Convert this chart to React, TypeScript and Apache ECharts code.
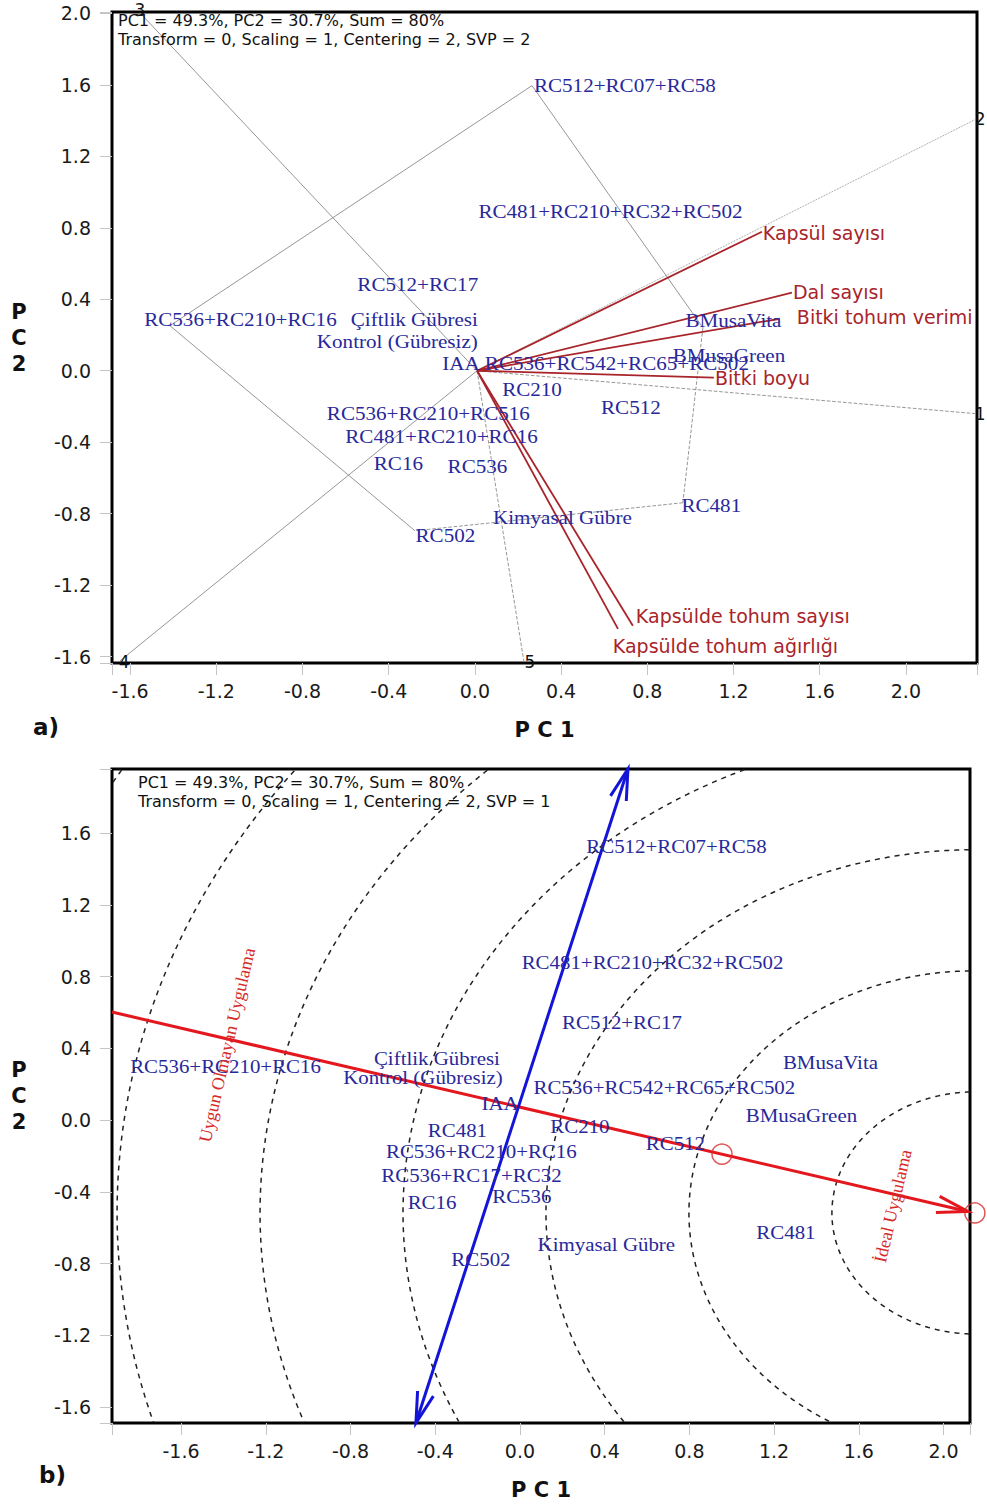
import React, { useEffect, useRef } from 'react';
import * as echarts from 'echarts';

// ---------------- Panel a) : which-won-where biplot ----------------
const topGenotypes = ['RC512+RC07+RC58', 'RC481+RC210+RC32+RC502', 'RC512+RC17', 'RC536+RC210+RC16', 'Çiftlik Gübresi', 'Kontrol (Gübresiz)', 'IAA', 'RC536+RC542+RC65+RC502', 'BMusaVita', 'BMusaGreen', 'RC210', 'RC536+RC210+RC516', 'RC512', 'RC481+RC210+RC16', 'RC16', 'RC536', 'RC481', 'Kimyasal Gübre', 'RC502'];
const topGenoPC1 = [0.696, 0.629, -0.265, -1.088, -0.281, -0.360, -0.065, 0.659, 1.200, 1.179, 0.265, -0.216, 0.724, -0.155, -0.355, 0.012, 1.097, 0.406, -0.137];
const topGenoPC2 = [1.596, 0.890, 0.482, 0.286, 0.286, 0.162, 0.039, 0.039, 0.280, 0.084, -0.106, -0.241, -0.207, -0.370, -0.521, -0.538, -0.756, -0.823, -0.924];

const traits = ['Kapsül sayısı', 'Dal sayısı', 'Bitki tohum verimi', 'Bitki boyu', 'Kapsülde tohum sayısı', 'Kapsülde tohum ağırlığı'];
const traitPC1 = [1.332, 1.471, 1.415, 1.109, 0.733, 0.664];
const traitPC2 = [0.778, 0.437, 0.291, -0.039, -1.428, -1.445];
const traitLabelPC1 = [1.336, 1.476, 1.494, 1.114, 0.747, 0.640];
const traitLabelPC2 = [0.773, 0.442, 0.302, -0.039, -1.372, -1.540];

const biplotOrigin = [0.01, 0];

const hullPC1 = [0.265, 1.058, 0.965, -0.278, -1.415];
const hullPC2 = [1.596, 0.241, -0.739, -0.896, 0.252];
const hullEdgeType = ['solid', 'dashed', 'dashed', 'solid', 'solid'];

const rayLabels = ['1', '2', '3', '4', '5'];
const rayPC1 = [2.33, 2.33, -1.555, -1.647, 0.227];
const rayPC2 = [-0.241, 1.411, 2.004, -1.624, -1.624];
const rayType = ['dashed', 'dotted', 'solid', 'solid', 'dashed'];
const rayLabelPC1 = [2.345, 2.345, -1.555, -1.628, 0.255];
const rayLabelPC2 = [-0.241, 1.411, 2.02, -1.63, -1.63];

const topXRange = [-1.684, 2.33];
const topYRange = [-1.636, 2.008];

// ---------------- Panel b) : ideal genotype biplot ----------------
const botGenotypes = ['RC512+RC07+RC58', 'RC481+RC210+RC32+RC502', 'RC512+RC17', 'RC536+RC210+RC16', 'Çiftlik Gübresi', 'Kontrol (Gübresiz)', 'IAA', 'RC536+RC542+RC65+RC502', 'BMusaVita', 'BMusaGreen', 'RC481', 'RC210', 'RC512', 'RC536+RC210+RC16', 'RC536+RC17+RC32', 'RC16', 'RC536', 'Kimyasal Gübre', 'RC481', 'RC502'];
const botGenoPC1 = [0.739, 0.626, 0.482, -1.390, -0.392, -0.458, -0.094, 0.682, 1.466, 1.329, -0.295, 0.283, 0.734, -0.182, -0.229, -0.415, 0.009, 0.408, 1.256, -0.184];
const botGenoPC2 = [1.527, 0.881, 0.546, 0.301, 0.346, 0.240, 0.095, 0.184, 0.323, 0.028, -0.056, -0.033, -0.128, -0.173, -0.307, -0.457, -0.424, -0.691, -0.624, -0.775];

const idealPoint = [2.148, -0.518];
const averagePoint = [0.954, -0.190];
const circleRadii = [0.675, 1.35, 2.025, 2.70, 3.375, 4.05, 4.725];
const aeaPC1 = [-1.926, 2.115];
const aeaPC2 = [0.602, -0.510];
const orthoPC1 = [-0.491, 0.51];
const orthoPC2 = [-1.689, 1.957];
const botNotes = ['Uygun Olmayan Uygulama', 'İdeal Uygulama'];
const botNotePC1 = [-1.383, 1.761];
const botNotePC2 = [0.418, -0.479];

const botXRange = [-1.926, 2.125];
const botYRange = [-1.689, 1.957];

// ---------------- styles ----------------
const BLUE = '#28289a';
const DARKRED = '#a8242a';
const RED = '#e3171d';
const BLUE_LINE = '#1414d8';
const SANS = '"DejaVu Sans", sans-serif';
const SERIF = '"Liberation Serif", "Times New Roman", serif';

const fmt = (v: number) => {
  const r = Math.round(v / 0.4) * 0.4;
  if (Math.abs(v - r) > 1e-6) return '';
  return Math.abs(r) < 1e-9 ? '0.0' : r.toFixed(1);
};

const makeXAxis = (gridIndex: number, range: number[]) => ({
  type: 'value', gridIndex, min: range[0], max: range[1], minInterval: 0.4, maxInterval: 0.4, splitNumber: 10,
  axisLine: { show: false, onZero: false }, splitLine: { show: false },
  axisTick: { show: true, length: 12, lineStyle: { color: '#c4c4c4', width: 1 } },
  axisLabel: { formatter: fmt, fontFamily: SANS, fontSize: 19, color: '#1a1a1a', margin: 18 },
  name: 'P C 1', nameLocation: 'middle', nameGap: 56,
  nameTextStyle: { fontFamily: SANS, fontWeight: 'bold', fontSize: 21, color: '#111' },
});

const makeYAxis = (gridIndex: number, range: number[]) => ({
  type: 'value', gridIndex, min: range[0], max: range[1], minInterval: 0.4, maxInterval: 0.4, splitNumber: 10,
  axisLine: { show: false, onZero: false }, splitLine: { show: false },
  axisTick: { show: true, length: 12, lineStyle: { color: '#c4c4c4', width: 1 } },
  axisLabel: { formatter: fmt, fontFamily: SANS, fontSize: 19, color: '#1a1a1a', margin: 21 },
  name: 'P\nC\n2', nameLocation: 'middle', nameRotate: 0, nameGap: 93,
  nameTextStyle: { fontFamily: SANS, fontWeight: 'bold', fontSize: 21, color: '#111', lineHeight: 26, align: 'center' },
});

const segment = (gi: number, p1: number[], p2: number[], color: string, width: number, type: string, z = 2) => ({
  type: 'line', xAxisIndex: gi, yAxisIndex: gi, data: [p1, p2], symbol: 'none', silent: true, z,
  lineStyle: { color, width, type }, animation: false,
});

const textSeries = (gi: number, names: string[], xs: number[], ys: number[], o: any) => ({
  type: 'custom', xAxisIndex: gi, yAxisIndex: gi, silent: true, z: 10,
  data: xs.map((x, i) => [x, ys[i], i]),
  renderItem: (_p: any, api: any) => {
    const pt = api.coord([api.value(0), api.value(1)]);
    const i = api.value(2);
    return {
      type: 'text', x: pt[0], y: pt[1], scaleX: o.scaleX ?? 1, rotation: o.rotation ?? 0,
      style: { text: names[i], fill: o.color, font: o.font, textAlign: o.align ?? 'center', textVerticalAlign: 'middle' },
    };
  },
});

export default function App() {
  const ref = useRef<HTMLDivElement>(null);
  useEffect(() => {
    if (!ref.current) return;
    const chart = echarts.init(ref.current, null, { renderer: 'svg' });

    const series: any[] = [];
    // --- panel a ---
    for (let i = 0; i < rayPC1.length; i++) {
      series.push(segment(0, biplotOrigin, [rayPC1[i], rayPC2[i]], '#8a8a8a', 0.9, rayType[i]));
    }
    for (let i = 0; i < hullPC1.length; i++) {
      const j = (i + 1) % hullPC1.length;
      series.push(segment(0, [hullPC1[i], hullPC2[i]], [hullPC1[j], hullPC2[j]], '#8a8a8a', 0.9, hullEdgeType[i]));
    }
    for (let i = 0; i < traitPC1.length; i++) {
      series.push(segment(0, biplotOrigin, [traitPC1[i], traitPC2[i]], DARKRED, 1.8, 'solid', 4));
    }
    series.push(textSeries(0, topGenotypes, topGenoPC1, topGenoPC2, { color: BLUE, font: `19px ${SERIF}`, scaleX: 1.11 }));
    series.push(textSeries(0, traits, traitLabelPC1, traitLabelPC2, { color: DARKRED, font: `19px ${SANS}`, align: 'left' }));
    series.push(textSeries(0, rayLabels, rayLabelPC1, rayLabelPC2, { color: '#111', font: `17px ${SANS}` }));

    // --- panel b ---
    const [cx, cy] = idealPoint;
    series.push({
      type: 'custom', xAxisIndex: 1, yAxisIndex: 1, silent: true, z: 2,
      data: circleRadii.map((r) => [r, 0]),
      renderItem: (_p: any, api: any) => {
        const r = api.value(0);
        const runs: number[][][] = [];
        let cur: number[][] = [];
        const N = 1440;
        for (let k = 0; k <= N; k++) {
          const t = (k / N) * Math.PI * 2;
          const x = cx + r * Math.cos(t);
          const y = cy + r * Math.sin(t);
          if (x >= botXRange[0] && x <= botXRange[1] && y >= botYRange[0] && y <= botYRange[1]) {
            cur.push(api.coord([x, y]));
          } else {
            if (cur.length > 1) runs.push(cur);
            cur = [];
          }
        }
        if (cur.length > 1) runs.push(cur);
        return {
          type: 'group',
          children: runs.map((pts) => ({
            type: 'polyline', shape: { points: pts },
            style: { stroke: '#222', lineWidth: 1.5, lineDash: [5, 5], fill: 'none' },
          })),
        };
      },
    });
    series.push(segment(1, [aeaPC1[0], aeaPC2[0]], [aeaPC1[1], aeaPC2[1]], RED, 3, 'solid', 4));
    series.push(segment(1, [orthoPC1[0], orthoPC2[0]], [orthoPC1[1], orthoPC2[1]], BLUE_LINE, 3, 'solid', 4));
    const arrowColors = [RED, BLUE_LINE];
    series.push({
      type: 'custom', xAxisIndex: 1, yAxisIndex: 1, silent: true, z: 5,
      data: [
        [aeaPC1[1], aeaPC2[1], aeaPC1[0], aeaPC2[0], 0],
        [orthoPC1[1], orthoPC2[1], orthoPC1[0], orthoPC2[0], 1],
        [orthoPC1[0], orthoPC2[0], orthoPC1[1], orthoPC2[1], 1],
      ],
      renderItem: (_p: any, api: any) => {
        const tip = api.coord([api.value(0), api.value(1)]);
        const tail = api.coord([api.value(2), api.value(3)]);
        const ci = api.value(4);
        let dx = tail[0] - tip[0];
        let dy = tail[1] - tip[1];
        const len = Math.hypot(dx, dy);
        dx /= len; dy /= len;
        const a = (15 * Math.PI) / 180;
        const L = 32;
        const rot = (s: number) => [tip[0] + L * (dx * Math.cos(s) - dy * Math.sin(s)), tip[1] + L * (dx * Math.sin(s) + dy * Math.cos(s))];
        return {
          type: 'polyline', shape: { points: [rot(a), tip, rot(-a)] },
          style: { stroke: arrowColors[ci], lineWidth: 3, fill: 'none' },
        };
      },
    });
    series.push({
      type: 'scatter', xAxisIndex: 1, yAxisIndex: 1, silent: true, z: 6, clip: false,
      data: [averagePoint, idealPoint], symbol: 'circle', symbolSize: 20,
      itemStyle: { color: 'rgba(0,0,0,0)', borderColor: '#d42a2a', borderWidth: 1.5 },
    });
    series.push(textSeries(1, botGenotypes, botGenoPC1, botGenoPC2, { color: BLUE, font: `19px ${SERIF}`, scaleX: 1.1 }));
    series.push(textSeries(1, botNotes, botNotePC1, botNotePC2, { color: '#d42a2a', font: `18px ${SERIF}`, rotation: (77 * Math.PI) / 180 }));

    chart.setOption({
      animation: false,
      backgroundColor: '#fff',
      grid: [
        { left: 112, top: 12, width: 865, height: 651, show: true, borderColor: '#000', borderWidth: 3, backgroundColor: 'transparent', containLabel: false, outerBoundsMode: 'none' },
        { left: 112, top: 769, width: 858, height: 654, show: true, borderColor: '#000', borderWidth: 3, backgroundColor: 'transparent', containLabel: false, outerBoundsMode: 'none' },
      ],
      xAxis: [makeXAxis(0, topXRange), makeXAxis(1, botXRange)],
      yAxis: [makeYAxis(0, topYRange), makeYAxis(1, botYRange)],
      graphic: [
        { type: 'text', left: 118, top: 12, z: 20, style: { text: 'PC1 = 49.3%, PC2 = 30.7%, Sum = 80%', font: `16px ${SANS}`, fill: '#111' } },
        { type: 'text', left: 118, top: 31, z: 20, style: { text: 'Transform = 0, Scaling = 1, Centering = 2, SVP = 2', font: `16px ${SANS}`, fill: '#111' } },
        { type: 'text', left: 138, top: 774, z: 20, style: { text: 'PC1 = 49.3%, PC2 = 30.7%, Sum = 80%', font: `16px ${SANS}`, fill: '#111' } },
        { type: 'text', left: 138, top: 793, z: 20, style: { text: 'Transform = 0, Scaling = 1, Centering = 2, SVP = 1', font: `16px ${SANS}`, fill: '#111' } },
        { type: 'text', left: 33, top: 715, z: 20, style: { text: 'a)', font: `bold 23px ${SANS}`, fill: '#111' } },
        { type: 'text', left: 39, top: 1463, z: 20, style: { text: 'b)', font: `bold 23px ${SANS}`, fill: '#111' } },
      ],
      series,
    });
    return () => chart.dispose();
  }, []);
  return <div ref={ref} style={{ position: 'absolute', left: 0, top: 0, width: 987, height: 1504 }} />;
}
